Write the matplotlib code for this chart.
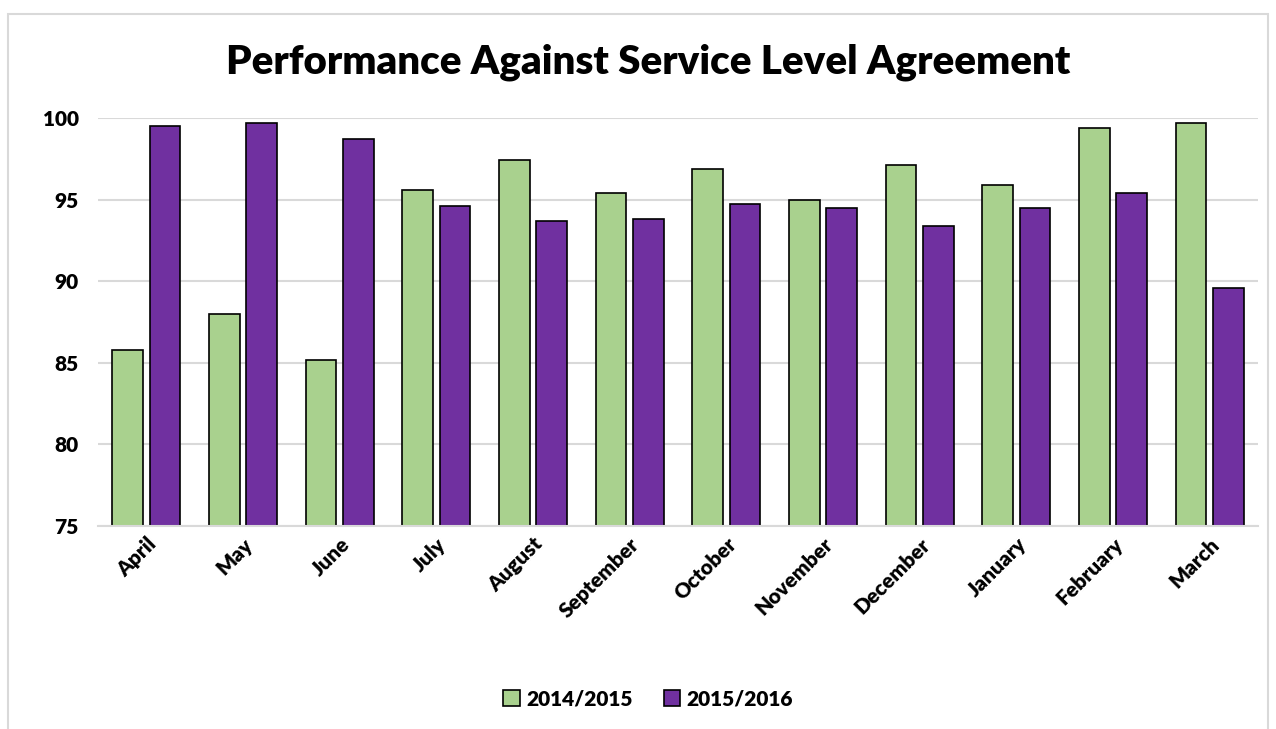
import matplotlib
import numpy as np

matplotlib.use("Agg")
import matplotlib.pyplot as plt
from matplotlib.patches import Rectangle

months = ["April", "May", "June", "July", "August", "September",
          "October", "November", "December", "January", "February", "March"]
sla_2014_15 = [85.8, 88.0, 85.2, 95.6, 97.4, 95.4, 96.9, 95.0, 97.1, 95.9, 99.4, 99.7]
sla_2015_16 = [99.5, 99.7, 98.7, 94.6, 93.7, 93.8, 94.7, 94.5, 93.4, 94.5, 95.4, 89.6]
yticks = [75, 80, 85, 90, 95, 100]

green = "#A9D18E"
purple = "#7030A0"
grid_col = "#D9D9D9"

plt.rcParams["font.family"] = ["Lato", "DejaVu Sans"]
plt.rcParams["font.weight"] = "heavy"

fig = plt.figure(figsize=(12.76, 7.29), dpi=100)
ax = fig.add_axes([98 / 1276, 1 - 526 / 729, 1160 / 1276, 408 / 729])

# outer chart border
fig.patches.append(Rectangle((8 / 1276, -0.01), 1260 / 1276, 1 - 14 / 729 + 0.01,
                             transform=fig.transFigure, fill=False,
                             edgecolor="#D9D9D9", lw=1.5))

x = np.arange(len(months))
w = 0.317
off = 0.193
ax.bar(x - off, sla_2014_15, w, color=green, edgecolor="black", lw=1.2,
       label="2014/2015", zorder=3)
ax.bar(x + off, sla_2015_16, w, color=purple, edgecolor="black", lw=1.2,
       label="2015/2016", zorder=3)

ax.set_ylim(75, 100)
ax.set_xlim(-0.5, len(months) - 0.5)
ax.set_yticks(yticks)
ax.set_yticklabels([str(v) for v in yticks], fontsize=15, fontweight="heavy")
ax.set_xticks(x)
ax.set_xticklabels(months, rotation=45, ha="right", rotation_mode="anchor",
                   fontsize=15, fontweight="heavy")
ax.tick_params(length=0, pad=14)
ax.tick_params(axis="x", pad=6)
ax.grid(axis="y", color=grid_col, lw=1.5, zorder=0)
for s in ["top", "right", "left"]:
    ax.spines[s].set_visible(False)
ax.spines["bottom"].set_color(grid_col)
ax.spines["bottom"].set_linewidth(1.5)
ax.spines["bottom"].set_zorder(4)

fig.text(0.508, 1 - 62 / 729, "Performance Against Service Level Agreement",
         ha="center", va="center", fontsize=29, fontweight="heavy")

fig.legend(loc="center", bbox_to_anchor=(0.508, 1 - 699 / 729), ncol=2,
           frameon=False, prop={"size": 15, "weight": "heavy"},
           handlelength=0.8, handleheight=0.8, handletextpad=0.3,
           columnspacing=1.5)

fig.savefig("out.png", dpi=100)
